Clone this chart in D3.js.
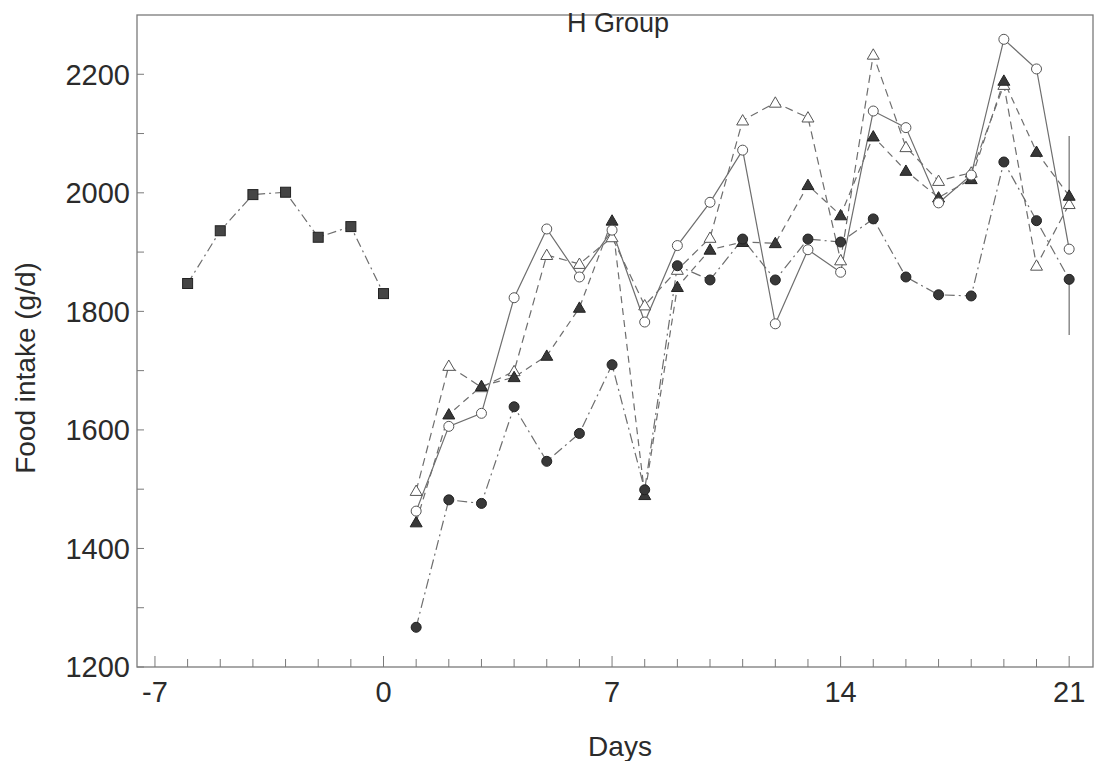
<!DOCTYPE html>
<html>
<head>
<meta charset="utf-8">
<script src="https://cdn.jsdelivr.net/npm/d3@7"></script>
<style>
  body { margin: 0; background: #fff; }
  text { font-family: "Liberation Sans", Arial, sans-serif; fill: #2b2b2b; }
</style>
</head>
<body>
<svg id="chart" width="1094" height="761"></svg>
<script>
const baselineDays = [-6, -5, -4, -3, -2, -1, 0];
const baselineIntake = [1847, 1936, 1997, 2001, 1925, 1943, 1830];

const days = [1, 2, 3, 4, 5, 6, 7, 8, 9, 10, 11, 12, 13, 14, 15, 16, 17, 18, 19, 20, 21];
// open circles, solid line
const openCircle = [1463, 1606, 1628, 1823, 1939, 1858, 1937, 1782, 1911, 1984, 2072, 1779, 1904, 1866, 2138, 2110, 1983, 2030, 2259, 2209, 1905];
// filled circles, dash-dot line
const filledCircle = [1267, 1482, 1476, 1639, 1547, 1594, 1710, 1499, 1877, 1853, 1922, 1853, 1922, 1917, 1956, 1858, 1828, 1826, 2052, 1953, 1854];
// open triangles, dashed line
const openTriangle = [1497, 1708, 1672, 1699, 1895, 1880, 1925, 1810, 1870, 1924, 2122, 2152, 2127, 1886, 2233, 2077, 2020, 2034, 2182, 1877, 1981];
// filled triangles, dashed line
const filledTriangle = [1444, 1626, 1674, 1689, 1725, 1806, 1953, 1490, 1841, 1904, 1917, 1915, 2013, 1962, 2095, 2037, 1992, 2023, 2189, 2069, 1995];

// error bars drawn at day 21
const errorBars = [
  { day: 21, from: 1995, to: 2096 },
  { day: 21, from: 1854, to: 1760 }
];

const xTicks = d3.range(-7, 22, 1);
const xLabels = [-7, 0, 7, 14, 21];
const yTicks = d3.range(1200, 2201, 100);
const yLabels = [1200, 1400, 1600, 1800, 2000, 2200];

const svg = d3.select("#chart");
const plotLeft = 137, plotRight = 1093, plotTop = 15, plotBottom = 667;

const x = d3.scaleLinear().domain([-7.55, 21.73]).range([plotLeft, plotRight]);
const y = d3.scaleLinear().domain([1200, 2300]).range([plotBottom, plotTop]);

const axisColor = "#7a7a7a";
const lineColor = "#6e6e6e";
const markColor = "#383838";

// frame
svg.append("rect")
  .attr("x", plotLeft).attr("y", plotTop)
  .attr("width", plotRight - plotLeft).attr("height", plotBottom - plotTop)
  .attr("fill", "none")
  .attr("stroke", axisColor)
  .attr("stroke-width", 1.3);

// x ticks (inward)
svg.append("g").selectAll("line")
  .data(xTicks)
  .enter().append("line")
  .attr("x1", d => x(d)).attr("x2", d => x(d))
  .attr("y1", plotBottom)
  .attr("y2", d => plotBottom - (d % 7 === 0 ? 11 : 8))
  .attr("stroke", axisColor);

svg.append("g").selectAll("text")
  .data(xLabels)
  .enter().append("text")
  .attr("x", d => x(d))
  .attr("y", 702)
  .attr("text-anchor", "middle")
  .attr("font-size", "29px")
  .text(d => d);

// y ticks (inward)
svg.append("g").selectAll("line")
  .data(yTicks)
  .enter().append("line")
  .attr("x1", plotLeft).attr("x2", plotLeft + 7)
  .attr("y1", d => y(d)).attr("y2", d => y(d))
  .attr("stroke", axisColor);

svg.append("g").selectAll("text")
  .data(yLabels)
  .enter().append("text")
  .attr("x", 130)
  .attr("y", d => y(d))
  .attr("dy", "0.36em")
  .attr("text-anchor", "end")
  .attr("font-size", "29px")
  .text(d => d);

svg.append("text")
  .attr("x", 620).attr("y", 756)
  .attr("text-anchor", "middle")
  .attr("font-size", "28px")
  .text("Days");

svg.append("text")
  .attr("transform", "translate(35, 368) rotate(-90)")
  .attr("text-anchor", "middle")
  .attr("font-size", "28px")
  .text("Food intake (g/d)");

svg.append("text")
  .attr("x", 618).attr("y", 32)
  .attr("text-anchor", "middle")
  .attr("font-size", "27px")
  .text("H Group");

// lines
const line = d3.line().x(d => x(d[0])).y(d => y(d[1]));
const pairs = vals => days.map((d, i) => [d, vals[i]]);

const seriesLines = [
  { pts: baselineDays.map((d, i) => [d, baselineIntake[i]]), dash: "9,4,2,4" },
  { pts: pairs(filledCircle), dash: "10,4,2,4" },
  { pts: pairs(filledTriangle), dash: "7,5" },
  { pts: pairs(openTriangle), dash: "8,5" },
  { pts: pairs(openCircle), dash: null }
];

seriesLines.forEach(s => {
  svg.append("path")
    .datum(s.pts)
    .attr("d", line)
    .attr("fill", "none")
    .attr("stroke", lineColor)
    .attr("stroke-width", 1.2)
    .attr("stroke-dasharray", s.dash);
});

// error bars
svg.append("g").selectAll("line")
  .data(errorBars)
  .enter().append("line")
  .attr("x1", d => x(d.day)).attr("x2", d => x(d.day))
  .attr("y1", d => y(d.from)).attr("y2", d => y(d.to))
  .attr("stroke", lineColor)
  .attr("stroke-width", 1.2);

// markers
const tri = d3.symbol().type(d3.symbolTriangle).size(62);

svg.append("g").selectAll("rect")
  .data(baselineDays.map((d, i) => [d, baselineIntake[i]]))
  .enter().append("rect")
  .attr("x", d => x(d[0]) - 5).attr("y", d => y(d[1]) - 5)
  .attr("width", 10).attr("height", 10)
  .attr("fill", "#454545")
  .attr("stroke", "#222");

svg.append("g").selectAll("path")
  .data(pairs(openTriangle))
  .enter().append("path")
  .attr("d", tri)
  .attr("transform", d => `translate(${x(d[0])},${y(d[1]) + 1})`)
  .attr("fill", "#fff")
  .attr("stroke", "#555");

svg.append("g").selectAll("path")
  .data(pairs(filledTriangle))
  .enter().append("path")
  .attr("d", tri)
  .attr("transform", d => `translate(${x(d[0])},${y(d[1]) + 1})`)
  .attr("fill", markColor)
  .attr("stroke", "#222");

svg.append("g").selectAll("circle")
  .data(pairs(openCircle))
  .enter().append("circle")
  .attr("cx", d => x(d[0])).attr("cy", d => y(d[1]))
  .attr("r", 5)
  .attr("fill", "#fff")
  .attr("stroke", "#555");

svg.append("g").selectAll("circle")
  .data(pairs(filledCircle))
  .enter().append("circle")
  .attr("cx", d => x(d[0])).attr("cy", d => y(d[1]))
  .attr("r", 5)
  .attr("fill", markColor)
  .attr("stroke", "#222");
</script>
</body>
</html>
